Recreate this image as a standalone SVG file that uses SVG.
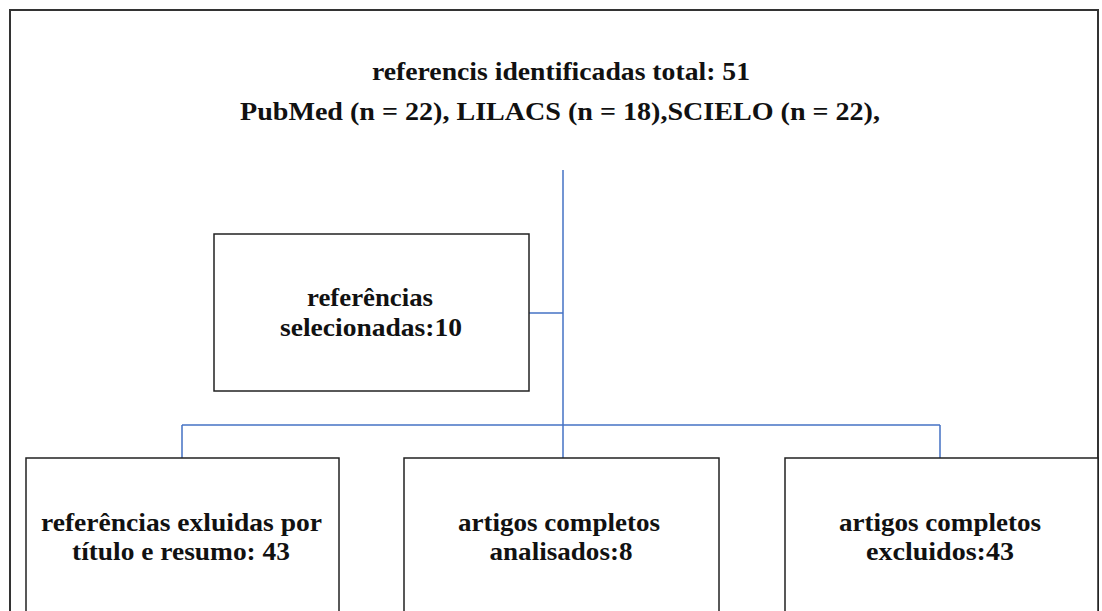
<svg xmlns="http://www.w3.org/2000/svg" width="1102" height="611" viewBox="0 0 1102 611">
<style>
.box{fill:#fff;stroke:#222;stroke-width:1.5}
.t{font-family:"Liberation Serif","Times New Roman",serif;font-size:25px;font-weight:bold;fill:#111;text-anchor:middle}
.h{font-size:26px}
.c{stroke:#4472C4;stroke-width:1.5;fill:none}
</style>
<rect x="0" y="0" width="1102" height="611" fill="#fff"/>
<rect id="frame" x="10" y="10" width="1088" height="620" fill="none" stroke="#333" stroke-width="2"/>
<g id="title">
<text class="t h" x="561" y="80" textLength="378" lengthAdjust="spacingAndGlyphs">referencis identificadas total: 51</text>
<text class="t h" x="560" y="120" textLength="640" lengthAdjust="spacingAndGlyphs">PubMed (n = 22), LILACS (n = 18),SCIELO (n = 22),</text>
</g>
<g id="connectors">
<path class="c" d="M563 170V458"/>
<path class="c" d="M529 313H563"/>
<path class="c" d="M182 425H940"/>
<path class="c" d="M182 425V458M940 425V458"/>
</g>
<g id="selecionadas">
<rect class="box" x="214" y="234" width="315" height="157"/>
<text class="t" x="370" y="306" textLength="126" lengthAdjust="spacingAndGlyphs">referências</text>
<text class="t" x="371" y="336" textLength="182" lengthAdjust="spacingAndGlyphs">selecionadas:10</text>
</g>
<g id="excluidas">
<rect class="box" x="26" y="458" width="313" height="170"/>
<text class="t" x="181.5" y="531" textLength="281" lengthAdjust="spacingAndGlyphs">referências exluidas por</text>
<text class="t" x="181" y="560" textLength="218" lengthAdjust="spacingAndGlyphs">título e resumo: 43</text>
</g>
<g id="analisados">
<rect class="box" x="404" y="458" width="315" height="170"/>
<text class="t" x="559" y="531" textLength="202" lengthAdjust="spacingAndGlyphs">artigos completos</text>
<text class="t" x="561" y="560" textLength="143" lengthAdjust="spacingAndGlyphs">analisados:8</text>
</g>
<g id="excluidos">
<rect class="box" x="785" y="458" width="313" height="170"/>
<text class="t" x="940" y="531" textLength="202" lengthAdjust="spacingAndGlyphs">artigos completos</text>
<text class="t" x="940" y="560" textLength="148" lengthAdjust="spacingAndGlyphs">excluidos:43</text>
</g>
</svg>
